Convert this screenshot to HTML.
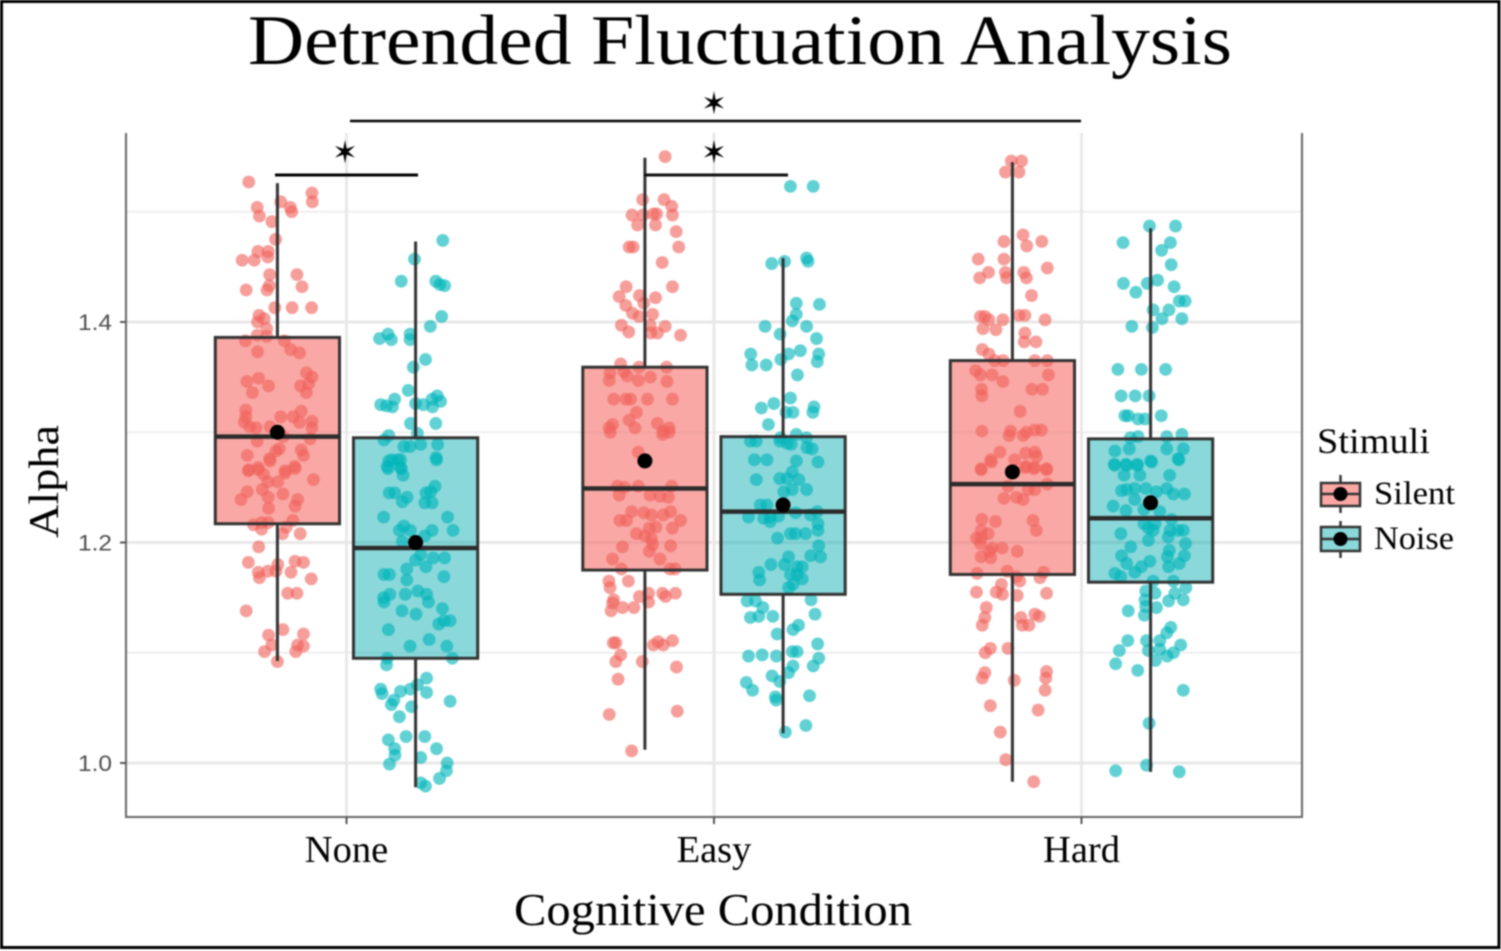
<!DOCTYPE html>
<html lang="en">
<head>
<meta charset="utf-8">
<title>Detrended Fluctuation Analysis</title>
<style>
html,body{margin:0;padding:0;background:#fff;width:1501px;height:951px;overflow:hidden}
svg{display:block;filter:blur(0.8px)}
text{font-family:"Liberation Serif",serif;fill:#000}
.ytick{font-family:"Liberation Sans",sans-serif;fill:#4d4d4d}
.star{font-family:"DejaVu Sans",sans-serif;fill:#000}
</style>
</head>
<body>
<svg id="chart" xmlns="http://www.w3.org/2000/svg" width="1501" height="951" viewBox="0 0 1501 951">
  <rect x="1.5" y="1.5" width="1497.5" height="946" fill="#fff" stroke="#000" stroke-width="3"/>
  <g id="grid"></g>
  <g id="boxes"></g>
  <g id="points"></g>
  <g id="whiskers"></g>
  <g id="axes"></g>

  <text x="248" y="64" font-size="71" textLength="984" lengthAdjust="spacingAndGlyphs">Detrended Fluctuation Analysis</text>
  <text x="514" y="925" font-size="45" textLength="398" lengthAdjust="spacingAndGlyphs">Cognitive Condition</text>
  <text transform="translate(58,538) rotate(-90)" font-size="42" textLength="113" lengthAdjust="spacingAndGlyphs">Alpha</text>

  <line x1="350" x2="1081" y1="121" y2="121" stroke="#000" stroke-width="2.5"/>
  <text class="star" x="714" y="114" font-size="31" text-anchor="middle">&#10038;</text>
  <line x1="275" x2="418" y1="175" y2="175" stroke="#000" stroke-width="3"/>
  <text class="star" x="345" y="163" font-size="31" text-anchor="middle">&#10038;</text>
  <line x1="644" x2="788" y1="175" y2="175" stroke="#111" stroke-width="3"/>
  <text class="star" x="714" y="163" font-size="31" text-anchor="middle">&#10038;</text>

  <g>
    <text x="1317" y="453" font-size="36" textLength="113" lengthAdjust="spacingAndGlyphs">Stimuli</text>
    <g>
      <line x1="1340.5" x2="1340.5" y1="475" y2="513" stroke="#333" stroke-width="2.5"/>
      <rect x="1321" y="483" width="39" height="23" fill="#fba7a4" stroke="#333" stroke-width="2.5"/>
      <line x1="1321" x2="1360" y1="494" y2="494" stroke="#333" stroke-width="2.5"/>
      <circle cx="1340.5" cy="494" r="7" fill="#000"/>
      <text x="1374" y="504" font-size="33" textLength="81" lengthAdjust="spacingAndGlyphs">Silent</text>
    </g>
    <g>
      <line x1="1340.5" x2="1340.5" y1="521" y2="558" stroke="#333" stroke-width="2.5"/>
      <rect x="1321" y="527" width="39" height="24" fill="#8ad8da" stroke="#333" stroke-width="2.5"/>
      <line x1="1321" x2="1360" y1="539" y2="539" stroke="#333" stroke-width="2.5"/>
      <circle cx="1340.5" cy="539" r="7" fill="#000"/>
      <text x="1374" y="549" font-size="33" textLength="80" lengthAdjust="spacingAndGlyphs">Noise</text>
    </g>
  </g>
</svg>
<script>
const categories = ['None', 'Easy', 'Hard'];
const seriesNames = ['Silent', 'Noise'];
const yMajorTicks = [1.0, 1.2, 1.4];
const yTickLabels = ['1.0', '1.2', '1.4'];
const yMinorTicks = [1.1, 1.3, 1.5];

const whiskerLow = [[1.0925, 0.978], [1.012, 1.027], [0.983, 0.992]];
const boxLow = [[1.217, 1.095], [1.175, 1.153], [1.171, 1.164]];
const medians = [[1.296, 1.195], [1.249, 1.228], [1.253, 1.222]];
const boxHigh = [[1.386, 1.295], [1.359, 1.296], [1.365, 1.294]];
const whiskerHigh = [[1.526, 1.473], [1.549, 1.458], [1.545, 1.485]];
const means = [[1.300, 1.200], [1.274, 1.234], [1.264, 1.236]];

const noneSilentAlpha = [1.527,1.517,1.509,1.509,1.504,1.504,1.500,1.496,1.491,1.475,1.464,1.464,1.459,1.456,1.456,1.443,1.443,1.429,1.429,1.433,1.432,1.413,1.413,1.413,1.406,1.403,1.400,1.394,1.388,1.387,1.383,1.383,1.373,1.375,1.372,1.354,1.350,1.346,1.349,1.342,1.342,1.344,1.336,1.336,1.320,1.319,1.314,1.309,1.314,1.314,1.310,1.309,1.305,1.304,1.304,1.305,1.292,1.294,1.296,1.284,1.285,1.283,1.279,1.279,1.276,1.269,1.268,1.266,1.265,
1.274,1.267,1.265,1.266,1.262,1.263,1.257,1.255,1.255,1.248,1.246,1.244,1.239,1.241,1.239,1.233,1.231,1.216,1.218,1.218,1.220,1.214,1.212,1.208,1.208,1.196,1.182,1.183,1.182,1.180,1.173,1.174,1.174,1.173,1.168,1.167,1.154,1.154,1.138,1.121,1.116,1.117,1.107,1.107,1.106,1.101,1.101,1.092];
const noneSilentJitter = [-.078,.094,.095,.009,-.055,.035,.039,-.049,-.015,-.005,-.053,-.025,-.026,-.096,-.063,-.021,.053,-.085,-.028,-.022,.067,-.007,.04,.093,-.05,-.036,-.054,-.029,-.055,-.029,-.087,.019,-.054,.036,.06,.079,.094,-.083,-.051,-.024,.063,.085,-.068,.079,-.086,.065,-.086,-.09,.009,.043,.094,.06,-.075,-.058,.094,-.02,-.055,.089,.016,.065,.005,-.004,-.082,.071,-.021,.047,-.052,-.078,.021,
-.02,.048,-.079,-.052,-.038,.021,.098,-.026,.001,-.041,-.082,.015,-.099,-.025,.055,.048,-.024,-.065,-.043,-.025,.042,.024,-.043,.014,.062,-.051,-.079,.048,.071,.001,-.052,-.026,-.004,.037,-.049,.092,.028,.053,-.085,.015,-.024,.071,-.015,.055,.071,-.035,.05,0];

const noneNoiseAlpha = [1.474,1.457,1.437,1.437,1.434,1.433,1.405,1.396,1.385,1.389,1.384,1.389,1.384,1.366,1.359,1.338,1.333,1.330,1.325,1.324,1.323,1.326,1.325,1.330,1.328,1.323,1.308,1.308,1.297,1.293,1.299,1.289,1.289,1.287,1.287,1.277,1.275,1.275,1.269,1.268,
1.274,1.275,1.275,1.267,1.267,1.261,1.251,1.246,1.245,1.245,1.245,1.241,1.237,1.236,1.236,1.223,1.223,1.215,1.211,1.211,1.211,1.211,1.206,1.201,1.189,1.186,1.186,1.184,1.178,1.176,1.171,1.171,1.169,1.166,1.156,1.153,1.153,1.150,1.153,1.146,1.146,1.138,1.140,1.135,1.129,1.129,1.126,1.121,1.112,1.106,1.106,1.095,1.095,1.089,1.077,1.071,1.067,1.063,1.065,1.067,1.064,1.057,1.053,1.051,1.056,1.042,1.024,1.024,1.021,1.013,1.013,1.007,1.005,1.000,.999,.993,.986,.982,.979];
const noneNoiseJitter = [.074,-.003,-.039,.055,.066,.079,.071,.04,-.098,-.075,-.066,-.015,-.015,.027,-.006,-.02,.059,-.057,-.095,-.079,-.063,0,.021,.045,.068,.046,-.014,.055,-.073,-.086,.005,.014,.06,-.032,-.015,.056,-.064,-.048,-.077,-.041,
-.073,-.041,.057,-.075,-.039,-.034,.053,.041,-.072,-.057,.028,-.023,-.036,.025,.045,-.087,.087,-.032,-.044,-.014,.045,.102,.025,-.036,.014,.048,.079,0,.028,-.024,-.086,-.071,.077,-.024,.006,.03,-.07,-.087,-.028,-.086,.035,-.037,.073,.001,.094,.077,.063,-.074,.037,-.015,.085,-.077,.1,-.079,.03,.005,-.095,-.091,-.041,-.014,.03,-.059,-.066,-.011,.094,-.044,-.026,.025,-.074,-.057,.057,-.056,.014,.086,-.071,.084,.065,.014,.027];

const easySilentAlpha = [1.550,1.511,1.511,1.505,1.497,1.497,1.498,1.498,1.497,1.488,1.488,1.482,1.468,1.468,1.468,1.454,1.432,1.432,1.423,1.424,1.422,1.415,1.417,1.408,1.405,1.407,1.397,1.397,1.396,1.391,1.390,1.390,1.388,1.362,1.359,1.359,1.354,1.355,1.351,1.350,1.347,1.347,1.346,1.330,1.330,1.330,1.330,1.330,1.318,1.311,1.308,1.307,1.304,1.304,1.304,1.300,1.301,1.300,1.298,1.282,
1.251,1.250,1.251,1.251,1.243,1.243,1.242,1.241,1.228,1.227,1.225,1.225,1.228,1.220,1.220,1.220,1.214,1.213,1.213,1.208,1.206,1.203,1.196,1.198,1.197,1.192,1.185,1.185,1.176,1.176,1.176,1.165,1.165,1.159,1.154,1.151,1.154,1.151,1.154,1.148,1.145,1.146,1.141,1.141,1.138,1.109,1.109,1.111,1.110,1.107,1.107,1.098,1.092,1.092,1.087,1.076,1.044,1.047,1.011];
const easySilentJitter = [.055,-.006,.052,.073,-.035,-.005,.023,.032,.075,-.02,.029,.085,-.043,-.032,.092,.047,-.051,.075,-.07,-.015,.029,-.052,-.003,-.034,-.016,.021,-.064,.014,.055,-.044,.016,.034,.097,-.066,-.016,.059,-.095,-.057,-.048,.015,-.097,-.018,.06,-.085,-.052,-.039,.007,.075,-.023,-.043,.034,-.088,-.097,-.027,.066,-.094,.05,.066,.048,-.018,
-.075,-.055,-.018,.073,-.07,.014,.041,.064,-.036,-.003,.018,.05,.07,-.068,-.05,.097,.03,.012,.075,-.023,0,.018,-.061,.021,.07,.012,-.088,.041,-.064,.068,.082,-.098,-.045,-.095,.01,-.015,.048,.056,.083,-.085,-.088,.01,-.061,-.03,-.092,-.086,-.079,.075,.036,.023,.05,-.066,-.079,-.007,.086,-.073,-.097,.088,-.036];

const easyNoiseAlpha = [1.523,1.523,1.453,1.455,1.458,1.455,1.417,1.416,1.407,1.401,1.396,1.396,1.389,1.385,1.374,1.371,1.371,1.371,1.366,1.361,1.361,1.364,1.352,1.331,1.326,1.322,1.323,1.318,1.318,1.318,1.307,1.295,1.298,1.295,1.292,1.292,1.292,1.290,1.289,1.286,1.285,1.275,1.275,1.274,1.273,
1.257,1.258,1.264,1.258,1.257,1.246,1.248,1.248,1.234,1.234,1.223,1.223,1.224,1.222,1.219,1.227,1.225,1.228,1.217,1.211,1.204,1.208,1.208,1.208,1.197,1.187,1.188,1.187,1.180,1.180,1.178,1.178,1.173,1.166,1.171,1.171,1.167,1.162,1.159,1.147,1.147,1.141,1.148,1.132,1.133,1.133,1.135,1.125,1.121,1.117,1.108,1.097,1.098,1.097,1.101,1.101,1.095,1.088,1.088,1.079,1.082,1.074,1.073,1.066,1.061,1.060,1.057,1.034,1.028];
const easyNoiseJitter = [.02,.082,-.031,.004,.064,.068,.036,.099,.036,.025,-.049,.064,-.008,.091,.047,.015,-.088,.097,-.006,-.085,-.046,.093,.039,.02,-.025,-.059,.084,.008,.027,.081,-.04,-.007,.036,.064,-.089,-.073,-.009,.011,.022,.065,.079,-.078,-.044,.036,.095,
-.073,-.009,.025,.011,.043,.002,.025,.064,-.062,-.044,-.094,-.035,-.012,-.053,-.035,.034,.075,.093,.095,.095,-.015,.02,.034,.061,.097,.015,.075,.102,-.033,.004,.052,.038,-.066,-.064,.02,.038,.052,.027,.015,-.098,-.075,-.055,.076,-.089,-.066,-.028,.087,.042,.027,-.016,.094,-.094,-.057,-.018,.025,.038,.097,.027,.082,-.03,.015,-.009,-.1,-.083,.072,-.021,-.019,.062,.006];

const hardSilentAlpha = [1.546,1.546,1.536,1.536,1.479,1.473,1.473,1.469,1.457,1.457,1.449,1.445,1.445,1.445,1.440,1.440,1.440,1.424,1.405,1.405,1.402,1.402,1.406,1.406,1.402,1.394,1.393,1.390,1.382,1.382,1.375,1.371,1.365,1.365,1.365,1.365,1.356,1.352,1.352,1.352,1.346,1.339,1.333,1.339,1.339,1.319,1.301,1.301,1.297,1.297,1.300,1.302,1.302,1.282,1.275,1.281,1.282,1.278,1.275,1.267,1.268,1.268,1.267,
1.266,1.273,1.269,1.267,1.266,1.251,1.253,1.248,1.248,1.240,1.241,1.239,1.221,1.219,1.220,1.211,1.211,1.208,1.204,1.204,1.199,1.195,1.195,1.192,1.192,1.187,1.186,1.172,1.174,1.169,1.168,1.173,1.162,1.165,1.155,1.155,1.153,1.152,1.154,1.141,1.132,1.125,1.132,1.135,1.133,1.125,1.125,1.104,1.104,1.100,1.082,1.077,1.075,1.083,1.077,1.066,1.052,1.048,1.028,1.003,.983];
const hardSilentJitter = [-.003,.025,-.019,.018,.029,-.023,.08,.039,-.093,-.023,.095,-.065,-.019,.031,-.089,-.016,.038,.052,-.087,-.075,-.064,-.026,.018,.034,.089,-.08,-.045,.034,.032,.064,-.082,-.064,-.048,-.025,.061,.095,-.1,-.087,-.055,.098,-.026,-.084,-.083,.053,.082,.021,-.083,-.005,-.009,.029,.038,.061,.079,-.034,-.059,.036,.061,.065,.006,-.085,.034,.061,.093,
-.085,-.057,.038,.058,.093,-.012,.095,.043,.061,-.023,.011,.029,-.083,-.046,.056,.065,-.085,-.066,-.098,-.085,-.087,-.055,-.028,.013,-.062,-.085,-.059,-.096,-.014,.011,.075,.085,-.03,.02,-.098,-.044,-.027,.013,.093,-.071,-.075,-.082,.023,.061,.073,.027,.045,-.06,-.012,-.074,-.075,-.082,.005,.093,.091,.089,-.06,.07,-.033,-.018,.058];

const hardNoiseAlpha = [1.487,1.487,1.472,1.472,1.465,1.452,1.435,1.435,1.438,1.432,1.427,1.419,1.419,1.411,1.411,1.403,1.403,1.396,1.395,1.357,1.357,1.357,1.333,1.333,1.333,1.315,1.315,1.312,1.312,1.315,1.295,1.296,1.296,1.298,1.283,1.285,1.285,1.285,1.276,1.274,1.271,1.271,1.271,
1.270,1.270,1.270,1.273,1.275,1.261,1.261,1.261,1.247,1.248,1.249,1.249,1.246,1.249,1.244,1.244,1.239,1.233,1.229,1.230,1.228,1.221,1.217,1.217,1.213,1.211,1.211,1.211,1.208,1.211,1.205,1.202,1.199,1.196,1.193,1.187,1.188,1.188,1.181,1.183,1.181,1.178,1.178,1.172,1.173,1.169,1.165,1.165,1.159,1.156,1.154,1.154,1.148,1.148,1.147,1.142,1.141,1.138,1.134,1.123,1.118,1.111,1.111,1.111,1.107,1.102,1.102,1.103,1.100,1.097,1.093,1.090,1.084,1.066,1.036,.998,.993,.992];
const hardNoiseJitter = [-.003,.068,-.075,.054,.03,.056,-.074,-.009,.019,.064,-.04,.078,.094,.007,.05,.031,.085,-.051,.005,-.089,-.025,.041,-.08,-.042,-.004,-.07,-.061,-.034,-.015,.029,-.055,-.034,.044,.085,-.097,-.058,.044,.089,.075,0,-.099,-.067,-.036,
-.097,-.065,-.036,.003,.077,-.072,-.029,.052,-.079,-.065,-.043,-.013,.016,.044,.062,.092,-.043,-.102,-.067,-.018,.025,.057,-.018,.012,-.006,.053,.075,.089,-.081,.007,.048,-.006,.095,-.054,.051,.046,-.079,.092,-.065,-.002,.078,-.025,.049,-.097,-.043,-.081,.007,.062,.096,-.013,.012,.066,-.015,.089,.049,-.013,.016,-.061,-.017,.055,.044,-.062,-.011,.025,.082,-.085,-.006,.025,.062,.045,.013,-.095,-.035,.089,-.004,-.011,-.095,.078];

const alphaByGroup = [[noneSilentAlpha, noneNoiseAlpha], [easySilentAlpha, easyNoiseAlpha], [hardSilentAlpha, hardNoiseAlpha]];
const jitterByGroup = [[noneSilentJitter, noneNoiseJitter], [easySilentJitter, easyNoiseJitter], [hardSilentJitter, hardNoiseJitter]];

const SVG_NS = 'http://www.w3.org/2000/svg';
const panel = { left: 126, right: 1302, top: 133, bottom: 817 };
const pxPerCategory = 367.5;
const yScale = v => 763 - (v - 1) * 1102.5;
const xScale = (c, offset) => 346.5 + (c + offset) * pxPerCategory;
const dodge = [-0.188, 0.188];
const boxHalf = 0.169;
const pointFill = ['#F0625C', '#00B4B9'];
const boxFill = ['rgba(245,110,105,.6)', 'rgba(0,170,175,.46)'];

function make(parentId, tag, attrs) {
  const el = document.createElementNS(SVG_NS, tag);
  for (const k in attrs) el.setAttribute(k, attrs[k]);
  document.getElementById(parentId).appendChild(el);
  return el;
}

yMinorTicks.forEach(t => {
  const el = make('grid', 'line', { x1: panel.left, x2: panel.right, y1: yScale(t), y2: yScale(t), stroke: '#efefef', 'stroke-width': 2 });
  
  
});
yMajorTicks.forEach(t => {
  const el = make('grid', 'line', { x1: panel.left, x2: panel.right, y1: yScale(t), y2: yScale(t), stroke: '#e8e8e8', 'stroke-width': 3 });
  
  
});
categories.forEach((c, i) => {
  const el = make('grid', 'line', { x1: xScale(i, 0), x2: xScale(i, 0), y1: panel.top, y2: panel.bottom, stroke: '#e8e8e8', 'stroke-width': 3 });
  
  
});

categories.forEach((c, i) => {
  seriesNames.forEach((s, j) => {
    const cx = xScale(i, dodge[j]);
    const x0 = xScale(i, dodge[j] - boxHalf);
    const x1 = xScale(i, dodge[j] + boxHalf);

    const fill = make('boxes', 'rect', { x: x0, y: yScale(boxHigh[i][j]), width: x1 - x0, height: yScale(boxLow[i][j]) - yScale(boxHigh[i][j]), fill: boxFill[j] });
    
    

    const alphas = alphaByGroup[i][j];
    const jitters = jitterByGroup[i][j];
    const n = Math.min(alphas.length, jitters.length);
    for (let k = 0; k < n; k++) {
      const pt = make('points', 'circle', { cx: xScale(i, dodge[j] + jitters[k]), cy: yScale(alphas[k]), r: 6.4, fill: pointFill[j], opacity: 0.62 });
      
      
    }

    const up = make('whiskers', 'line', { x1: cx, x2: cx, y1: yScale(whiskerHigh[i][j]), y2: yScale(boxHigh[i][j]), stroke: '#333', 'stroke-width': 3 });
    
    

    const down = make('whiskers', 'line', { x1: cx, x2: cx, y1: yScale(boxLow[i][j]), y2: yScale(whiskerLow[i][j]), stroke: '#333', 'stroke-width': 3 });
    
    

    const outline = make('whiskers', 'rect', { x: x0, y: yScale(boxHigh[i][j]), width: x1 - x0, height: yScale(boxLow[i][j]) - yScale(boxHigh[i][j]), fill: 'none', stroke: '#333', 'stroke-width': 3 });
    
    

    const med = make('whiskers', 'line', { x1: x0, x2: x1, y1: yScale(medians[i][j]), y2: yScale(medians[i][j]), stroke: '#2b2b2b', 'stroke-width': 4.5 });
    
    

    const mean = make('whiskers', 'circle', { cx: cx, cy: yScale(means[i][j]), r: 7.5, fill: '#000' });
    
    
  });
});

const leftAxis = make('axes', 'line', { x1: panel.left, x2: panel.left, y1: panel.top, y2: panel.bottom + 1, stroke: '#666', 'stroke-width': 2 });


const rightAxis = make('axes', 'line', { x1: panel.right, x2: panel.right, y1: panel.top, y2: panel.bottom + 1, stroke: '#666', 'stroke-width': 2 });


const bottomAxis = make('axes', 'line', { x1: panel.left, x2: panel.right, y1: panel.bottom, y2: panel.bottom, stroke: '#666', 'stroke-width': 2 });



yMajorTicks.forEach((t, i) => {
  const tick = make('axes', 'line', { x1: panel.left - 6, x2: panel.left, y1: yScale(t), y2: yScale(t), stroke: '#555', 'stroke-width': 2 });
  
  
  const label = make('axes', 'text', { x: 78, y: yScale(t) + 8, 'font-size': 22, class: 'ytick', textLength: 34, lengthAdjust: 'spacingAndGlyphs' });
  
  
  label.textContent = yTickLabels[i];
});
categories.forEach((c, i) => {
  const tick = make('axes', 'line', { x1: xScale(i, 0), x2: xScale(i, 0), y1: panel.bottom, y2: panel.bottom + 7, stroke: '#555', 'stroke-width': 2 });
  
  
  const label = make('axes', 'text', { x: xScale(i, 0), y: 862, 'font-size': 38.5, 'text-anchor': 'middle' });
  
  
  label.textContent = c;
});
</script>
</body>
</html>
